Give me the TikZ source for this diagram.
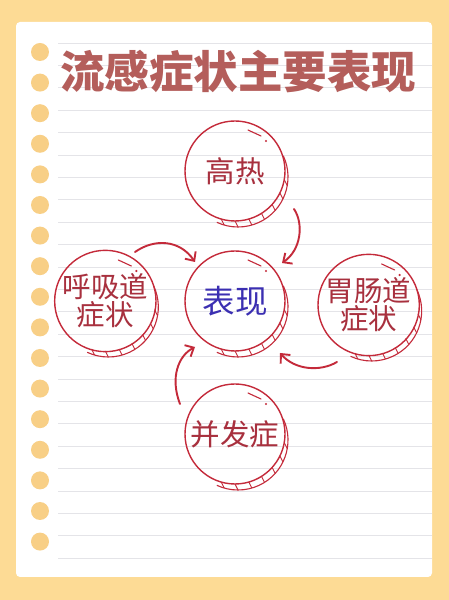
\documentclass[tikz,border=0pt]{standalone}
\usepackage{fontspec}
\newfontfamily\cjk{Noto Sans CJK SC}
\usetikzlibrary{arrows.meta, positioning}

\definecolor{bgyellow}{HTML}{FDDB95}
\definecolor{holeyellow}{HTML}{F8CF86}
\definecolor{ruleline}{HTML}{E4E4E8}
\definecolor{titlered}{HTML}{B45E5B}
\definecolor{inkred}{HTML}{C42A3A}
\definecolor{textred}{HTML}{A8303E}
\definecolor{inkblue}{HTML}{3B2FB2}

\begin{document}
\begin{tikzpicture}[x=1pt, y=1pt]
	\tikzset{>={Straight Barb[length=7pt, width=13pt]},
		coin/.style={circle, draw=inkred, line width=1.4pt, minimum size=100pt, inner sep=0pt, outer sep=0pt,
			text=textred, align=center, font=\cjk\fontsize{28.5}{28}\selectfont},
		flow/.style={->, draw=inkred, line width=1.9pt, line cap=round}}

	% paper
	\useasboundingbox (0,0) rectangle (449,600);
	\fill[bgyellow] (0,0) rectangle (449,600);
	\fill[white, rounded corners=4pt] (16,23) rectangle (432,578);
	\foreach \k in {0,...,23}
		\draw[ruleline, line width=0.8pt] (58,{557-22.4*\k}) -- (432,{557-22.4*\k});
	\foreach \k in {0,...,16}
		\fill[holeyellow] (40,{548-30.6*\k}) circle (9);

	\node[font=\cjk\bfseries\fontsize{44.5}{46}\selectfont, text=titlered] (title) at (238,528) {流感症状主要表现};

	% circles
	\node[coin, text=inkblue, font=\cjk\fontsize{32.5}{34}\selectfont] (biaoxian) at (235,299) {表现};
	\node[coin, above=30pt of biaoxian, font=\cjk\fontsize{29.5}{31}\selectfont] (gaore) {高热};
	\node[coin, left=29pt of biaoxian] (huxi) {呼吸道\\症状};
	\node[coin, right=33pt of biaoxian, yshift=-4pt] (weichang) {胃肠道\\症状};
	\node[coin, below=33pt of biaoxian, font=\cjk\fontsize{29.5}{31}\selectfont] (bingfa) {并发症};

	\foreach \n in {gaore, huxi, biaoxian, weichang, bingfa} {
		\draw[inkred, line width=1.1pt] ([shift={(3,-6)}]\n.center) ++(25:50) arc (25:-115:50);
		\foreach \a in {-10,-26,...,-106}
			\draw[inkred, line width=0.9pt] (\n.center) ++(\a:50) -- ++(3,-6);
		\draw[inkred, line width=1.1pt, line cap=round] (\n.center) ++(13,41) -- ++(13,-6);
		\fill[inkred] (\n.center) ++(31,30) circle (1.2);
	}

	% arrows
	\coordinate (g1) at (294,391);
	\coordinate (g2) at (282,337);
	\coordinate (h1) at (135,348);
	\coordinate (h2) at (195,338);
	\coordinate (b1) at (180,196);
	\coordinate (b2) at (195,253);
	\coordinate (w1) at (337,238);
	\coordinate (w2) at (280,247);

	\draw[flow] (g1) .. controls (304,376) and (301,350) .. (g2);
	\draw[flow] (h1) .. controls (155,362) and (180,360) .. (h2);
	\draw[flow] (b1) .. controls (170,222) and (178,244) .. (b2);
	\draw[flow] (w1) .. controls (320,228) and (295,230) .. (w2);
\end{tikzpicture}
\end{document}
